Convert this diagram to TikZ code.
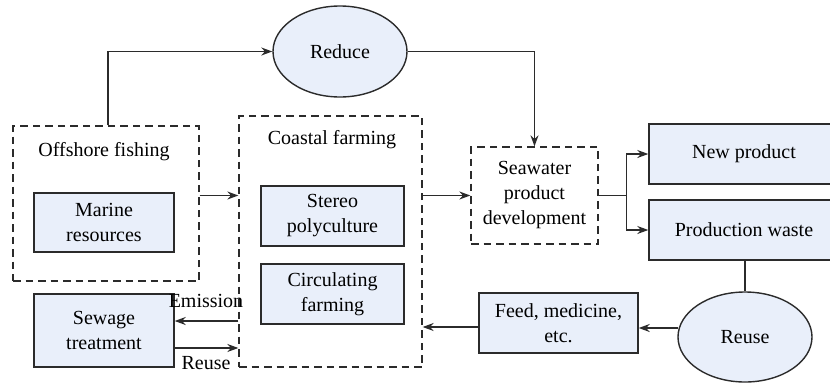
\documentclass[tikz,border=0pt]{standalone}
\usepackage{fontspec}
\setmainfont{Liberation Serif}
\usetikzlibrary{arrows.meta,shapes.geometric}
\definecolor{boxfill}{HTML}{E9EFFA}
\definecolor{linecol}{HTML}{2B2B2B}
\tikzset{
  every node/.style={font=\fontsize{20}{25}\selectfont, text=black},
  solidbox/.style={draw=linecol, line width=1.4pt, fill=boxfill, rectangle, align=center, inner sep=0pt},
  dashbox/.style={draw=linecol, line width=1.3pt, dash pattern=on 7.5pt off 5pt, rectangle, inner sep=0pt},
  oval/.style={draw=linecol, line width=1.4pt, fill=boxfill, ellipse, inner sep=0pt},
  arr/.style={draw=linecol, line width=1.4pt, -{Stealth[length=11pt,width=8pt]}},
  plain/.style={draw=linecol, line width=1.4pt},
  lbl/.style={inner sep=0pt, align=center}
}
\begin{document}
\begin{tikzpicture}[x=1pt,y=-1pt]
\useasboundingbox (0,0) rectangle (830,383);
% dashed groups
\node[dashbox, minimum width=186pt, minimum height=155pt] (offshore) at (106,203.5) {};
\node[lbl] (offlabel) at (104,152) {Offshore fishing};
\node[dashbox, minimum width=183pt, minimum height=251pt] (coastal) at (330.5,241.5) {};
\node[lbl] (coastlabel) at (332,140) {Coastal farming};
\node[dashbox, minimum width=127pt, minimum height=97pt, align=center] (seawater) at (534.5,195.5) {Seawater\\product\\development};
% boxes
\node[solidbox, minimum width=140pt, minimum height=59pt] (marine) at (104,222.5) {Marine\\resources};
\node[solidbox, minimum width=143pt, minimum height=60pt] (stereo) at (332.5,216) {Stereo\\polyculture};
\node[solidbox, minimum width=143pt, minimum height=60pt] (circ) at (332.5,294) {Circulating\\farming};
\node[solidbox, minimum width=140pt, minimum height=73pt] (sewage) at (104,330.5) {Sewage\\treatment};
\node[solidbox, minimum width=190pt, minimum height=60pt] (newp) at (744,154) {New product};
\node[solidbox, minimum width=190pt, minimum height=60pt] (prodw) at (744,230) {Production waste};
\node[solidbox, minimum width=159pt, minimum height=60pt] (feed) at (558.5,323) {Feed, medicine,\\etc.};
% ellipses
\node[oval, minimum width=134pt, minimum height=91pt] (reduce) at (340,51.5) {Reduce};
\node[oval, minimum width=134pt, minimum height=90pt] (reuse) at (745,337) {Reuse};
% connectors
\draw[arr] ([xshift=2pt]offshore.north) |- (reduce.west);
\draw[arr] (reduce.east) -| (seawater.north);
\draw[arr] (offshore.east |- seawater.center) -- (coastal.west |- seawater.center);
\draw[arr] (coastal.east |- seawater.center) -- (seawater.west);
\coordinate (split) at ([xshift=28pt]seawater.east);
\draw[plain] (seawater.east) -- (split);
\draw[arr] (split) |- (newp.west);
\draw[arr] (split) |- (prodw.west);
\draw[plain] (prodw.south -| reuse.north) -- (reuse.north);
\coordinate (rw) at ([shift={(1,-9)}]reuse.west);
\draw[arr] (rw) -- (feed.east |- rw);
\coordinate (fw) at ([yshift=-4pt]feed.west);
\draw[arr] (fw) -- (coastal.east |- fw);
\coordinate (em) at (coastal.west |- 0,321);
\draw[arr] (em) -- (sewage.east |- em);
\coordinate (ru) at (sewage.east |- 0,348);
\draw[arr] (ru) -- (coastal.west |- ru);
\node[lbl] (emlabel) at (206,301) {Emission};
\node[lbl] (rulabel) at (206,363) {Reuse};
\end{tikzpicture}
\end{document}
